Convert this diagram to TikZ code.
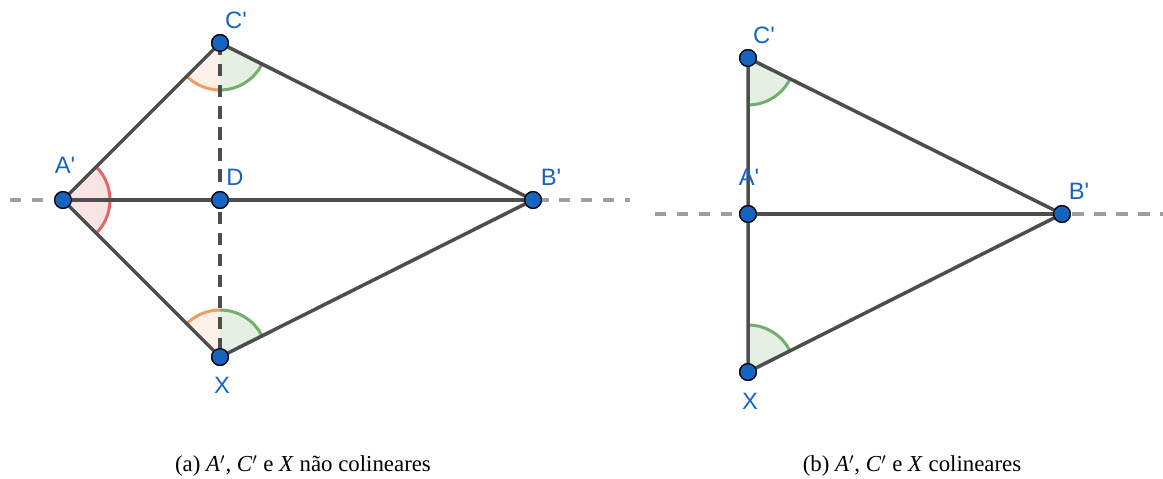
\documentclass[tikz,border=0pt]{standalone}
\usepackage{fontspec}
\setmainfont{Liberation Serif}
\newfontfamily\lblfont{Liberation Sans}
\definecolor{ptblue}{HTML}{1565C0}
\definecolor{segcol}{HTML}{4D4D4D}
\definecolor{axiscol}{HTML}{9E9E9E}
\definecolor{redang}{HTML}{E06666}
\definecolor{organg}{HTML}{EE9C62}
\definecolor{grnang}{HTML}{72AD6E}
\begin{document}
\begin{tikzpicture}[x=0.02cm, y=0.02cm,
    pt/.style={draw=black, fill=ptblue, circle, line width=0.7pt, inner sep=0pt, minimum size=9.5pt},
    lbl/.style={text=ptblue, font=\lblfont\fontsize{13.5}{13.5}\selectfont, inner sep=0pt},
    seg/.style={draw=segcol, line width=2pt},
    axis/.style={draw=axiscol, line width=2pt, dash pattern=on 6.5pt off 6pt},
    cut/.style={draw=segcol, line width=2pt, dash pattern=on 7pt off 5pt},
    captxt/.style={font=\fontsize{13}{15}\selectfont, inner sep=0pt}]
    \useasboundingbox (0,0) rectangle (1163,479);
    \def\r{0.94cm}

    % Points (a)
    \node[pt] (Aa) at (63,279) {};
    \node[pt] (Ca) at (220,436) {};
    \node[pt] (Da) at (220,279) {};
    \node[pt] (Xa) at (220,122) {};
    \node[pt] (Ba) at (533,279) {};
    \coordinate (La) at (10,279);
    \coordinate (Ra) at (630,279);

    % Points (b)
    \node[pt] (Cb) at (748,421) {};
    \node[pt] (Ab) at (748,265) {};
    \node[pt] (Xb) at (748,107) {};
    \node[pt] (Bb) at (1062,265) {};
    \coordinate (Lb) at (655,265);
    \coordinate (Rb) at (1163,265);

    % Angles (a)
    \fill[redang!18] (Aa.center) -- ++(-45:\r) arc[start angle=-45, end angle=45, radius=\r] -- cycle;
    \draw[redang, line width=1.7pt] ([shift={(-45:\r)}]Aa.center) arc[start angle=-45, end angle=45, radius=\r];
    \fill[organg!15] (Ca.center) -- ++(225:\r) arc[start angle=225, end angle=270, radius=\r] -- cycle;
    \draw[organg, line width=1.7pt] ([shift={(225:\r)}]Ca.center) arc[start angle=225, end angle=270, radius=\r];
    \fill[grnang!18] (Ca.center) -- ++(270:\r) arc[start angle=270, end angle=333.36, radius=\r] -- cycle;
    \draw[grnang, line width=1.7pt] ([shift={(270:\r)}]Ca.center) arc[start angle=270, end angle=333.36, radius=\r];
    \fill[organg!15] (Xa.center) -- ++(90:\r) arc[start angle=90, end angle=135, radius=\r] -- cycle;
    \draw[organg, line width=1.7pt] ([shift={(90:\r)}]Xa.center) arc[start angle=90, end angle=135, radius=\r];
    \fill[grnang!18] (Xa.center) -- ++(26.64:\r) arc[start angle=26.64, end angle=90, radius=\r] -- cycle;
    \draw[grnang, line width=1.7pt] ([shift={(26.64:\r)}]Xa.center) arc[start angle=26.64, end angle=90, radius=\r];

    % Angles (b)
    \fill[grnang!18] (Cb.center) -- ++(270:\r) arc[start angle=270, end angle=333.58, radius=\r] -- cycle;
    \draw[grnang, line width=1.7pt] ([shift={(270:\r)}]Cb.center) arc[start angle=270, end angle=333.58, radius=\r];
    \fill[grnang!18] (Xb.center) -- ++(26.71:\r) arc[start angle=26.71, end angle=90, radius=\r] -- cycle;
    \draw[grnang, line width=1.7pt] ([shift={(26.71:\r)}]Xb.center) arc[start angle=26.71, end angle=90, radius=\r];

    % Lines (a)
    \draw[axis] (La) -- (Ra);
    \draw[seg] (Aa.center) -- (Ca.center) -- (Ba.center) -- (Xa.center) -- cycle;
    \draw[seg] (Aa.center) -- (Ba.center);
    \draw[cut] (Ca.center) -- (Xa.center);

    % Lines (b)
    \draw[axis] (Lb) -- (Rb);
    \draw[seg] (Cb.center) -- (Bb.center) -- (Xb.center) -- cycle;
    \draw[seg] (Ab.center) -- (Bb.center);

    % Points on top
    \foreach \p in {Aa,Ca,Da,Xa,Ba,Cb,Ab,Xb,Bb}
        \node[pt] at (\p) {};

    % Labels
    \node[lbl] (lAa) at (65,314) {A\textquotesingle};
    \node[lbl] (lCa) at (236,459) {C\textquotesingle};
    \node[lbl] (lDa) at (235,302) {D};
    \node[lbl] (lXa) at (222,94) {X};
    \node[lbl] (lBa) at (551,302) {B\textquotesingle};
    \node[lbl] (lCb) at (764,444) {C\textquotesingle};
    \node[lbl] (lAb) at (749,302) {A\textquotesingle};
    \node[lbl] (lXb) at (750,78) {X};
    \node[lbl] (lBb) at (1079,288) {B\textquotesingle};

    % Captions
    \node[captxt] (capa) at (303,13) {(a) \textit{A}$'$, \textit{C}$'$ e \textit{X} não colineares};
    \node[captxt] (capb) at (912,13) {(b) \textit{A}$'$, \textit{C}$'$ e \textit{X} colineares};
\end{tikzpicture}
\end{document}
